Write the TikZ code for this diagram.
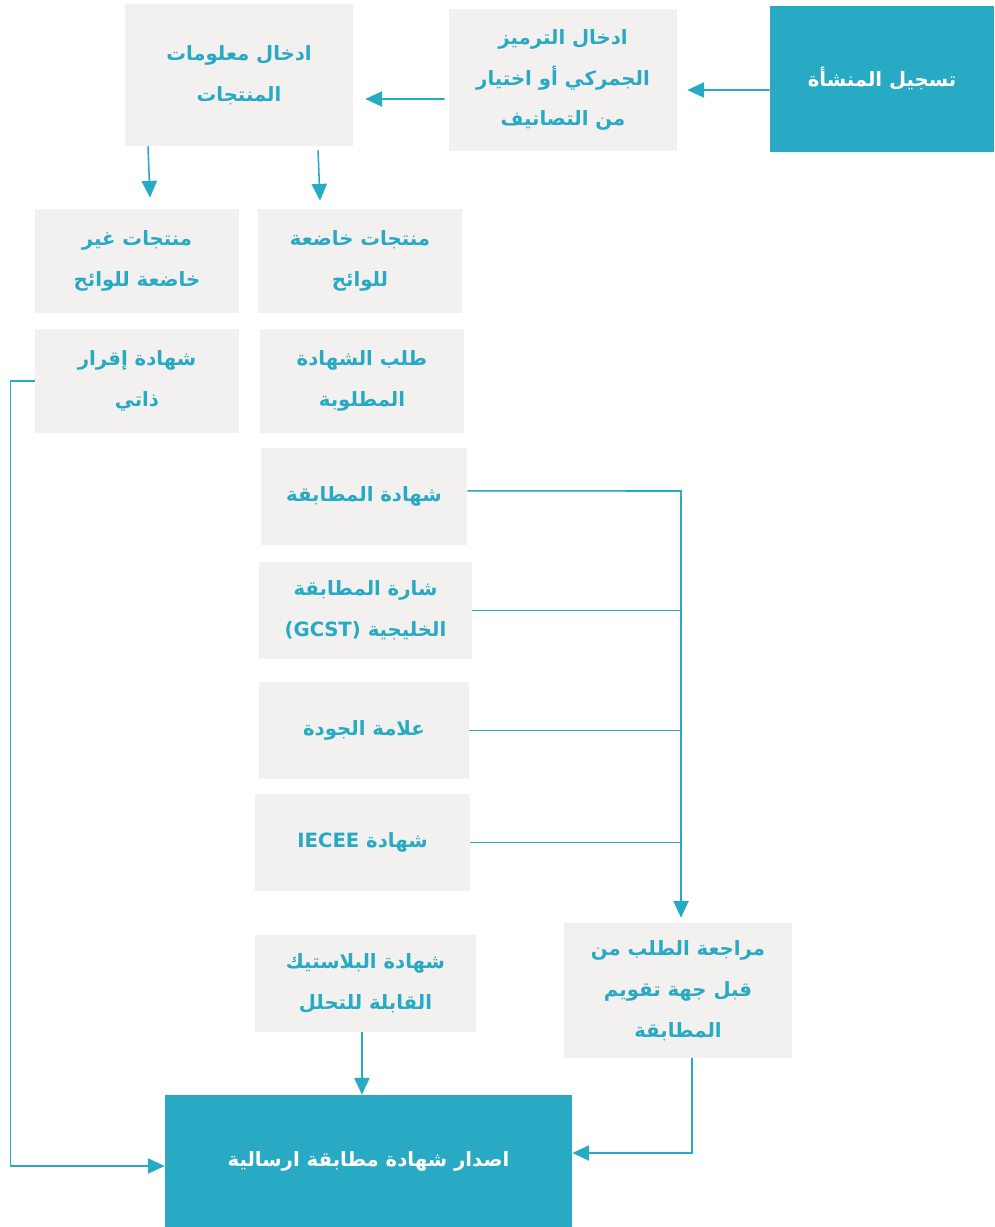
\documentclass[tikz,border=0pt]{standalone}
\usepackage{fontspec}
\usepackage{tikz}
\usetikzlibrary{arrows.meta,backgrounds}
\TeXXeTstate=1
\newfontfamily\arabicfont[Script=Arabic]{DejaVu Sans}
\newcommand\artxt[1]{\beginR #1\endR}
\definecolor{sfdateal}{RGB}{40,169,196}
\definecolor{sfdagray}{RGB}{242,241,239}
\tikzstyle{box}=[rectangle, fill=sfdagray, text=sfdateal, align=center, inner sep=0pt, font=\arabicfont\bfseries\fontsize{14}{29}\selectfont]
\tikzstyle{stage}=[rectangle, fill=sfdateal, text=white, align=center, inner sep=0pt, font=\arabicfont\bfseries\fontsize{14}{29}\selectfont]
\tikzstyle{line}=[draw=sfdateal, line width=1.1pt]
\tikzstyle{arr}=[draw=sfdateal, line width=1.1pt, -{Triangle[length=0.42cm,width=0.38cm]}]

\begin{document}
\begin{tikzpicture}[x=0.025cm,y=-0.025cm]
\useasboundingbox (0,0) rectangle (994,1227);
%Row One
\node[stage,minimum width=5.6cm,minimum height=3.65cm](reg) at (882,79){\artxt{تسجيل المنشأة}};
\node[box,minimum width=5.7cm,minimum height=3.55cm](code) at (563,80){\artxt{ادخال الترميز}\\\artxt{الجمركي أو اختيار}\\\artxt{من التصانيف}};
\node[box,minimum width=5.7cm,minimum height=3.55cm](info) at (239,75){\artxt{ادخال معلومات}\\\artxt{المنتجات}};
%Row Two
\node[box,minimum width=5.1cm,minimum height=2.6cm](nonsubj) at (137,261){\artxt{منتجات غير}\\\artxt{خاضعة للوائح}};
\node[box,minimum width=5.1cm,minimum height=2.6cm](subj) at (360,261){\artxt{منتجات خاضعة}\\\artxt{للوائح}};
\node[box,minimum width=5.1cm,minimum height=2.6cm](selfdecl) at (137,381){\artxt{شهادة إقرار}\\\artxt{ذاتي}};
\node[box,minimum width=5.1cm,minimum height=2.6cm](request) at (362,381){\artxt{طلب الشهادة}\\\artxt{المطلوبة}};
%Certificates
\node[box,minimum width=5.15cm,minimum height=2.425cm](conf) at (364,496.5){\artxt{شهادة المطابقة}};
\node[box,minimum width=5.325cm,minimum height=2.425cm](gcst) at (365.5,610.5){\artxt{شارة المطابقة}\\\artxt{الخليجية \beginL(GCST)\endL}};
\node[box,minimum width=5.25cm,minimum height=2.425cm](quality) at (364,730.5){\artxt{علامة الجودة}};
\node[box,minimum width=5.375cm,minimum height=2.425cm](iecee) at (362.5,842.5){\artxt{شهادة \beginL IECEE\endL}};
\node[box,minimum width=5.525cm,minimum height=2.425cm](plastic) at (365.5,983.5){\artxt{شهادة البلاستيك}\\\artxt{القابلة للتحلل}};
\node[box,minimum width=5.7cm,minimum height=3.375cm](review) at (678,990.5){\artxt{مراجعة الطلب من}\\\artxt{قبل جهة تقويم}\\\artxt{المطابقة}};
\node[stage,minimum width=10.175cm,minimum height=3.3cm](issue) at (368.5,1161){\artxt{اصدار شهادة مطابقة ارسالية}};
\coordinate (trunk) at (681,491);
%Arrows
\draw[arr] ([yshift=-0.275cm]reg.west) -- ([xshift=0.25cm,yshift=-0.25cm]code.east);
\draw[arr] ([xshift=-0.1cm,yshift=-0.475cm]code.west) -- ([xshift=0.3cm,yshift=-0.6cm]info.east);
\draw[arr] ([xshift=-2.275cm]info.south) -- ([xshift=0.325cm,yshift=0.275cm]nonsubj.north);
\draw[arr] ([xshift=1.975cm,yshift=-0.1cm]info.south) -- ([xshift=-1cm,yshift=0.2cm]subj.north);
\draw[arr] (selfdecl.west) -- ++(-0.6cm,0pt) |- ([yshift=-0.125cm]issue.west);
\draw[arr] ([yshift=0.14cm]conf.east) -- (trunk) -- ([yshift=0.125cm]review.north -| trunk);
\draw[line] (gcst.east) -- (gcst.east -| trunk);
\draw[line] (quality.east) -- (quality.east -| trunk);
\draw[line] (iecee.east) -- (iecee.east -| trunk);
\draw[arr] ([xshift=-0.09cm]plastic.south) -- ([xshift=-0.09cm]plastic.south |- issue.north);
\draw[arr] ([xshift=0.35cm]review.south) |- ([yshift=0.2cm]issue.east);
\end{tikzpicture}
\end{document}
